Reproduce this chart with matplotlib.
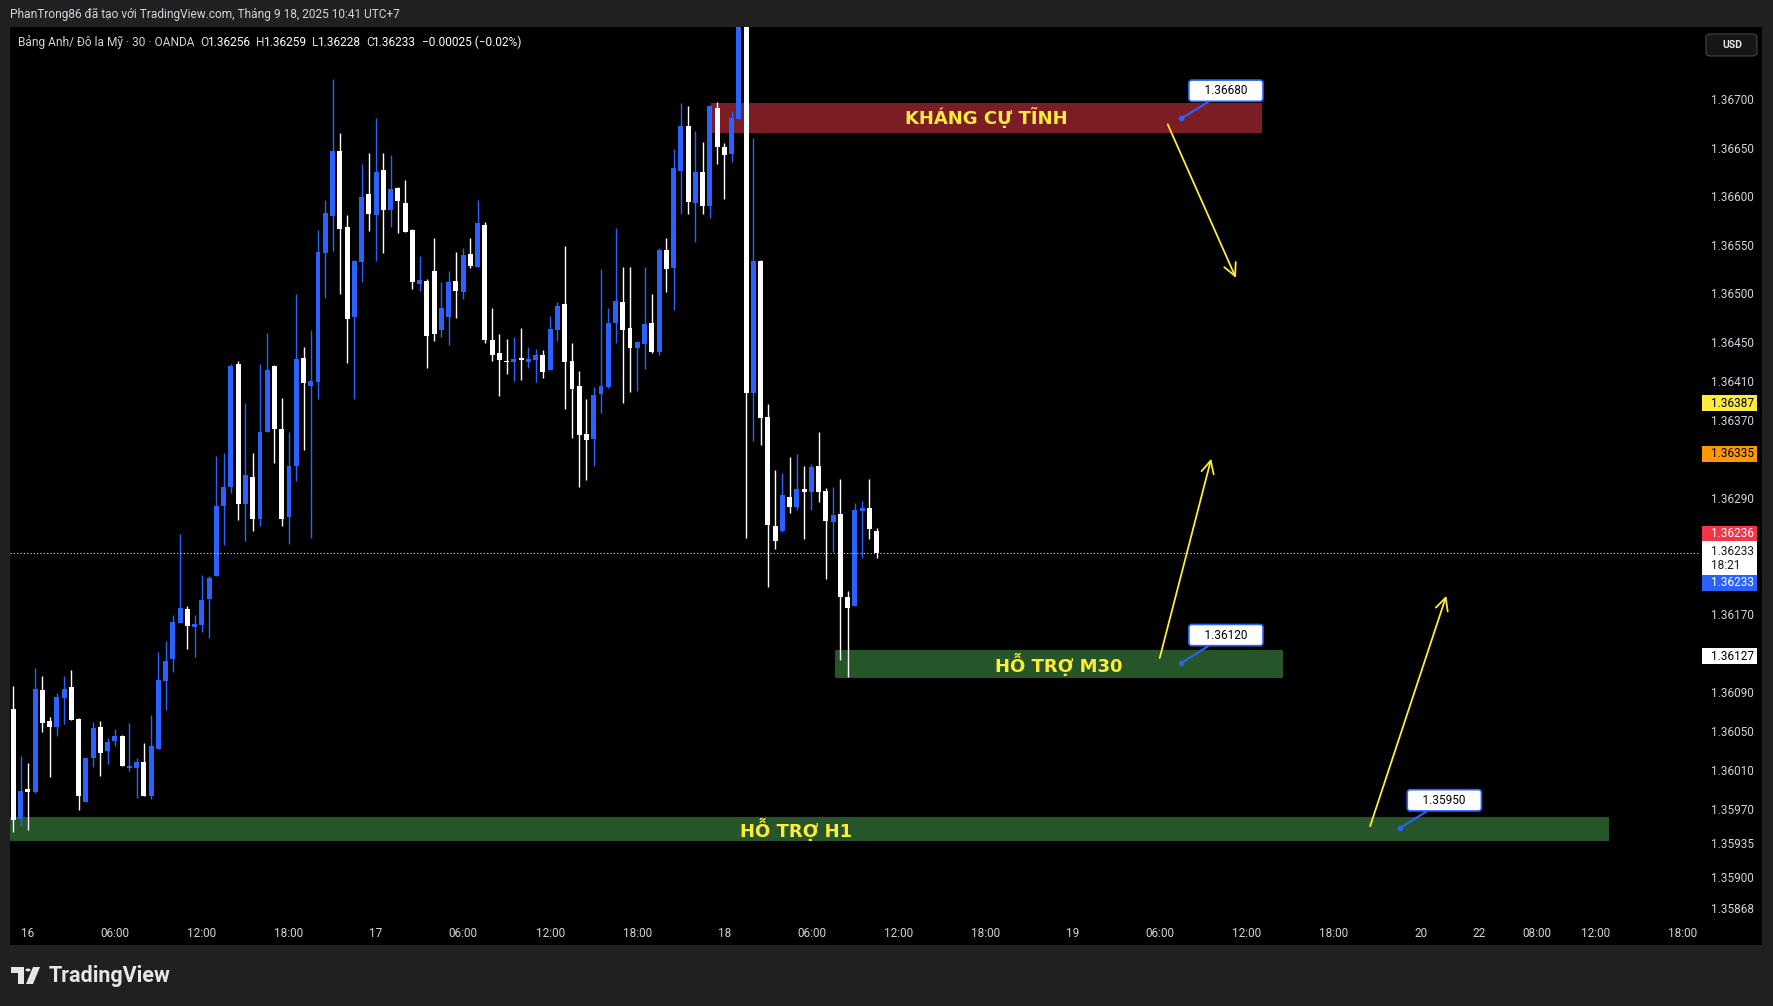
import matplotlib
matplotlib.use("Agg")
import matplotlib.pyplot as plt
from matplotlib.patches import Rectangle, FancyBboxPatch, Polygon, Circle

plt.rcParams['font.family'] = ['Roboto', 'DejaVu Sans']

# GBPUSD 30m candles, first bar = 15 Sep 23:00 (UTC+7)
opens = [1.36073, 1.35959, 1.35990, 1.35987, 1.36092, 1.36060, 1.36054, 1.36084, 1.36095, 1.36062,
         1.35977, 1.36022, 1.36054, 1.36029, 1.36040, 1.36045, 1.36012, 1.36012, 1.36018, 1.35983,
         1.36031, 1.36101, 1.36124, 1.36161, 1.36175, 1.36157, 1.36159, 1.36186, 1.36209, 1.36281,
         1.36301, 1.36427, 1.36283, 1.36311, 1.36268, 1.36357, 1.36425, 1.36361, 1.36270, 1.36322,
         1.36434, 1.36405, 1.36409, 1.36542, 1.36580, 1.36647, 1.36568, 1.36476, 1.36532, 1.36602,
         1.36581, 1.36627, 1.36586, 1.36608, 1.36593, 1.36565, 1.36510, 1.36513, 1.36523, 1.36462,
         1.36476, 1.36513, 1.36501, 1.36541, 1.36527, 1.36570, 1.36452, 1.36439, 1.36430, 1.36429,
         1.36433, 1.36429, 1.36432, 1.36437, 1.36421, 1.36462, 1.36489, 1.36430, 1.36405, 1.36355,
         1.36350, 1.36397, 1.36404, 1.36470, 1.36491, 1.36464, 1.36444, 1.36448, 1.36470, 1.36440,
         1.36545, 1.36526, 1.36626, 1.36672, 1.36593, 1.36625, 1.36590, 1.36691, 1.36651, 1.36643,
         1.36679, 1.36950, 1.36398, 1.36533, 1.36373, 1.36261, 1.36256, 1.36291, 1.36280, 1.36299,
         1.36296, 1.36322, 1.36297, 1.36265, 1.36273, 1.36188, 1.36178, 1.36276, 1.36279, 1.36256]
highs = [1.36096, 1.36024, 1.36017, 1.36115, 1.36106, 1.36064, 1.36089, 1.36106, 1.36113, 1.36063,
         1.36022, 1.36059, 1.36060, 1.36043, 1.36052, 1.36046, 1.36058, 1.36022, 1.36038, 1.36066,
         1.36131, 1.36142, 1.36169, 1.36253, 1.36178, 1.36169, 1.36210, 1.36209, 1.36333, 1.36336,
         1.36427, 1.36430, 1.36387, 1.36336, 1.36427, 1.36459, 1.36426, 1.36392, 1.36357, 1.36499,
         1.36445, 1.36462, 1.36565, 1.36596, 1.36721, 1.36665, 1.36581, 1.36534, 1.36633, 1.36644,
         1.36680, 1.36644, 1.36642, 1.36610, 1.36617, 1.36566, 1.36539, 1.36515, 1.36557, 1.36512,
         1.36523, 1.36543, 1.36547, 1.36557, 1.36596, 1.36573, 1.36485, 1.36458, 1.36453, 1.36455,
         1.36464, 1.36445, 1.36443, 1.36442, 1.36477, 1.36491, 1.36549, 1.36449, 1.36420, 1.36391,
         1.36404, 1.36525, 1.36485, 1.36567, 1.36527, 1.36527, 1.36451, 1.36527, 1.36499, 1.36547,
         1.36557, 1.36649, 1.36696, 1.36693, 1.36667, 1.36656, 1.36694, 1.36697, 1.36655, 1.36688,
         1.37260, 1.37100, 1.36660, 1.36534, 1.36386, 1.36318, 1.36315, 1.36332, 1.36335, 1.36322,
         1.36325, 1.36357, 1.36300, 1.36301, 1.36309, 1.36194, 1.36284, 1.36286, 1.36309, 1.36259]
lows = [1.35946, 1.35952, 1.35948, 1.35986, 1.36049, 1.36003, 1.36045, 1.36057, 1.36061, 1.35969,
        1.35977, 1.36013, 1.36004, 1.36016, 1.36034, 1.36014, 1.36009, 1.35981, 1.35983, 1.35980,
        1.36031, 1.36071, 1.36111, 1.36161, 1.36134, 1.36126, 1.36152, 1.36146, 1.36209, 1.36241,
        1.36295, 1.36267, 1.36245, 1.36256, 1.36261, 1.36357, 1.36326, 1.36261, 1.36242, 1.36307,
        1.36339, 1.36248, 1.36391, 1.36495, 1.36544, 1.36499, 1.36428, 1.36391, 1.36512, 1.36564,
        1.36533, 1.36542, 1.36568, 1.36562, 1.36563, 1.36505, 1.36503, 1.36423, 1.36451, 1.36455,
        1.36447, 1.36475, 1.36494, 1.36526, 1.36527, 1.36449, 1.36430, 1.36394, 1.36417, 1.36410,
        1.36411, 1.36423, 1.36409, 1.36413, 1.36421, 1.36451, 1.36381, 1.36351, 1.36301, 1.36308,
        1.36322, 1.36377, 1.36403, 1.36449, 1.36387, 1.36399, 1.36400, 1.36422, 1.36439, 1.36437,
        1.36501, 1.36483, 1.36582, 1.36582, 1.36553, 1.36582, 1.36578, 1.36633, 1.36597, 1.36635,
        1.36679, 1.36248, 1.36348, 1.36344, 1.36198, 1.36237, 1.36255, 1.36274, 1.36277, 1.36247,
        1.36277, 1.36285, 1.36206, 1.36234, 1.36123, 1.36105, 1.36178, 1.36228, 1.36247, 1.36228]
closes = [1.35958, 1.35988, 1.35987, 1.36093, 1.36058, 1.36054, 1.36085, 1.36093, 1.36061, 1.35983,
          1.36022, 1.36053, 1.36027, 1.36039, 1.36045, 1.36014, 1.36013, 1.36018, 1.35983, 1.36034,
          1.36102, 1.36122, 1.36162, 1.36176, 1.36158, 1.36160, 1.36185, 1.36207, 1.36281, 1.36301,
          1.36425, 1.36283, 1.36313, 1.36268, 1.36357, 1.36421, 1.36361, 1.36268, 1.36322, 1.36433,
          1.36408, 1.36410, 1.36543, 1.36583, 1.36647, 1.36566, 1.36474, 1.36533, 1.36599, 1.36582,
          1.36625, 1.36586, 1.36607, 1.36595, 1.36563, 1.36512, 1.36514, 1.36456, 1.36458, 1.36485,
          1.36512, 1.36503, 1.36540, 1.36528, 1.36572, 1.36452, 1.36437, 1.36432, 1.36429, 1.36433,
          1.36432, 1.36433, 1.36437, 1.36419, 1.36463, 1.36487, 1.36429, 1.36402, 1.36354, 1.36349,
          1.36396, 1.36405, 1.36470, 1.36492, 1.36462, 1.36444, 1.36450, 1.36469, 1.36440, 1.36545,
          1.36525, 1.36629, 1.36672, 1.36594, 1.36625, 1.36590, 1.36693, 1.36651, 1.36642, 1.36680,
          1.36950, 1.36398, 1.36533, 1.36372, 1.36262, 1.36245, 1.36293, 1.36280, 1.36299, 1.36296,
          1.36321, 1.36296, 1.36266, 1.36272, 1.36188, 1.36176, 1.36277, 1.36279, 1.36258, 1.36233]

price_ticks = [1.36700, 1.36650, 1.36600, 1.36550, 1.36500, 1.36450, 1.36410, 1.36370, 1.36290,
               1.36170, 1.36090, 1.36050, 1.36010, 1.35970, 1.35935, 1.35900, 1.35868]
time_ticks = [2, 14, 26, 38, 50, 62, 74, 86, 98, 110, 122, 134, 146, 158, 170, 182, 194, 202, 210, 218, 230]
time_labels = ["16", "06:00", "12:00", "18:00", "17", "06:00", "12:00", "18:00", "18", "06:00",
               "12:00", "18:00", "19", "06:00", "12:00", "18:00", "20", "22", "08:00", "12:00", "18:00"]

# drawn zones
zone_labels = ["KHÁNG CỰ TĨNH", "HỖ TRỢ M30", "HỖ TRỢ H1"]
zone_bottom = [1.36665, 1.36104, 1.35937]
zone_top = [1.36696, 1.36133, 1.35961]
zone_start = [96.2, 113.2, -4.2]
zone_end = [172.1, 175.0, 219.9]
zone_colors = ["#7b1d25", "#27552a", "#27552a"]

# price notes (callouts)
note_prices = [1.36680, 1.36120, 1.35950]
note_bars = [161.0, 161.0, 191.1]

# yellow arrows: (bar, price) start -> end
arrow_from = [(159.1, 1.36674), (158.0, 1.36125), (187.0, 1.35952)]
arrow_to = [(168.5, 1.36516), (165.1, 1.36330), (197.5, 1.36189)]

# price scale labels
scale_prices = [1.36387, 1.36335, 1.36127]
scale_colors = ["#ffeb3b", "#ff9800", "#ffffff"]
bid_price = 1.36236
last_price = 1.36233
countdown = "18:21"

W, H = 1773, 1006
BG = "#202020"
TXT = "#d1d4dc"
BLUE = "#2962ff"
YELLOW = "#ffeb3b"

y_top, y_bot = 1.367741, 1.358575
pane_top, pane_bot = 27, 918


def fx(px):
    return px / W


def fy(py):
    return 1 - py / H


def price_px(p):
    return pane_top + (y_top - p) / (y_top - y_bot) * (pane_bot - pane_top)


fig = plt.figure(figsize=(W / 100, H / 100), dpi=100, facecolor=BG)

# black chart panel
fig.add_artist(Rectangle((fx(10), fy(945)), (1762 - 10) / W, (945 - 27) / H,
                         transform=fig.transFigure, facecolor="black", edgecolor="none", zorder=0))

ax = fig.add_axes([fx(10), fy(pane_bot), (1700 - 10) / W, (pane_bot - pane_top) / H])
ax.set_facecolor("black")
ax.patch.set_alpha(0)
for s in ax.spines.values():
    s.set_visible(False)
ax.set_xlim(-0.45, 232.46)
ax.set_ylim(y_bot, y_top)

# zones
for lab, b, t, x0, x1, c in zip(zone_labels, zone_bottom, zone_top, zone_start, zone_end, zone_colors):
    ax.add_patch(Rectangle((x0, b), x1 - x0, t - b, facecolor=c, edgecolor="none", zorder=1))
    ax.text((x0 + x1) / 2, (b + t) / 2, lab, color=YELLOW, fontsize=13, fontweight="bold",
            family="DejaVu Sans", ha="center", va="center", zorder=5)

# candles
xs = list(range(len(opens)))
cols = [BLUE if c > o else "#ffffff" for o, c in zip(opens, closes)]
ax.vlines(xs, lows, highs, colors=cols, lw=1.0, zorder=2)
bottoms = [min(o, c) for o, c in zip(opens, closes)]
heights = [max(abs(c - o), 0.000014) for o, c in zip(opens, closes)]
ax.bar(xs, heights, bottom=bottoms, width=0.68, color=cols, zorder=3)

# last price dotted line
ax.axhline(last_price, color="#e0e0e0", lw=0.8, ls=(0, (1, 2)), zorder=4)

# arrows
for (xa, ya), (xb, yb) in zip(arrow_from, arrow_to):
    ax.annotate("", xy=(xb, yb), xytext=(xa, ya),
                arrowprops=dict(arrowstyle="->,head_length=0.6,head_width=0.3", color=YELLOW,
                                lw=1.3, mutation_scale=15, shrinkA=0, shrinkB=0), zorder=6)

# price notes
for p, b in zip(note_prices, note_bars):
    ax.plot([b], [p], "o", color=BLUE, ms=3, zorder=7)
    ax.annotate(f"    {p:.5f}    ", xy=(b, p), xytext=(32, 20), textcoords="offset points",
                ha="center", va="center", fontsize=8.5, color="black",
                bbox=dict(boxstyle="round,pad=0.35,rounding_size=0.25", fc="white", ec=BLUE, lw=1.2),
                arrowprops=dict(arrowstyle="-", color=BLUE, lw=1.5, shrinkA=0, shrinkB=0), zorder=7)

# axes ticks
ax.yaxis.tick_right()
ax.set_yticks(price_ticks)
ax.set_yticklabels([f"{p:.5f}" for p in price_ticks])
ax.set_xticks(time_ticks)
ax.set_xticklabels(time_labels)
ax.tick_params(axis="y", length=0, pad=8, labelsize=8.5, labelcolor=TXT)
ax.tick_params(axis="x", length=0, pad=6.5, labelsize=8.5, labelcolor=TXT)


def scale_label(py, text, fc, tc, h=16):
    fig.add_artist(Rectangle((fx(1702), fy(py + h / 2)), 55 / W, h / H, transform=fig.transFigure,
                             facecolor=fc, edgecolor="none", zorder=8))
    fig.text(fx(1711), fy(py), text, color=tc, fontsize=8.5, ha="left", va="center", zorder=9)


for p, c in zip(scale_prices, scale_colors):
    scale_label(price_px(p), f"{p:.5f}", c, "black")

cy = price_px(last_price)
scale_label(cy - 19, f"{bid_price:.5f}", "#f23645", "white", h=15)
fig.add_artist(Rectangle((fx(1702), fy(cy + 22)), 55 / W, 34 / H, transform=fig.transFigure,
                         facecolor="white", edgecolor="none", zorder=8))
fig.text(fx(1711), fy(cy - 1), f"{last_price:.5f}", color="#131722", fontsize=8.5, va="center", zorder=9)
fig.text(fx(1711), fy(cy + 13), countdown, color="#131722", fontsize=8.5, va="center", zorder=9)
scale_label(cy + 30, f"{last_price:.5f}", BLUE, "white", h=16)

# USD button
fig.add_artist(FancyBboxPatch((fx(1706), fy(56)), 51 / W, 22 / H, transform=fig.transFigure,
                              boxstyle="round,pad=0,rounding_size=0.003", facecolor="#161616",
                              edgecolor="#3a3a3a", lw=1, zorder=8))
fig.text(fx(1722), fy(45), "USD", color="#e8e8e8", fontsize=7.5, fontweight="bold", va="center", zorder=9)

# header
fig.text(fx(10), fy(14), "PhanTrong86 đã tạo với TradingView.com, Tháng 9 18, 2025 10:41 UTC+7",
         color=TXT, fontsize=8.6, va="center")

chg = closes[-1] - closes[-2]
legend_parts = [("Bảng Anh/ Đô la Mỹ · 30 · OANDA", TXT, 6),
                ("O", TXT, -1.5), (f"{opens[-1]:.5f}", "white", 6),
                ("H", TXT, -1.5), (f"{highs[-1]:.5f}", "white", 6),
                ("L", TXT, -1.5), (f"{lows[-1]:.5f}", "white", 6),
                ("C", TXT, -1.5), (f"{closes[-1]:.5f}", "white", 6),
                (f"−{abs(chg):.5f} (−{abs(chg) / closes[-2] * 100:.2f}%)", "white", 0)]
renderer = fig.canvas.get_renderer()
cursor = 18
for s, c, gap in legend_parts:
    t = fig.text(fx(cursor), fy(42), s, color=c, fontsize=8.6, va="center")
    cursor += t.get_window_extent(renderer).width + gap

# TradingView logo
fig.add_artist(Polygon([(fx(11), fy(967)), (fx(24), fy(967)), (fx(24), fy(984)), (fx(18), fy(984)),
                        (fx(18), fy(973)), (fx(11), fy(973))], closed=True, transform=fig.transFigure,
                       facecolor="#e6e6e6", edgecolor="none"))
fig.add_artist(Circle((fx(28), fy(970)), 2.6 / W, transform=fig.transFigure, facecolor="#e6e6e6",
                      edgecolor="none"))
fig.add_artist(Polygon([(fx(33), fy(967)), (fx(40), fy(967)), (fx(33), fy(984)), (fx(26), fy(984))],
                       closed=True, transform=fig.transFigure, facecolor="#e6e6e6", edgecolor="none"))
fig.text(fx(49), fy(976), "TradingView", color="#e6e6e6", fontsize=15.5, fontweight="bold", va="center")

fig.savefig("out.png", dpi=100, facecolor=BG)
